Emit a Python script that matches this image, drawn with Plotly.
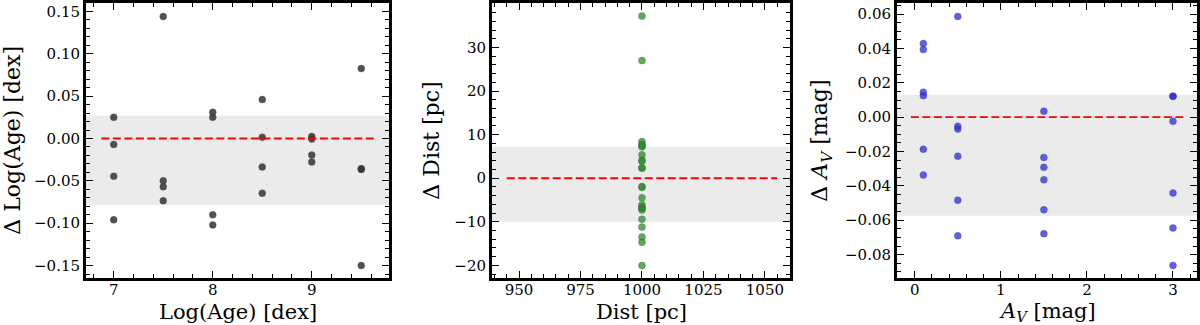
import plotly.graph_objects as go

# ---------------- data ----------------
age_x = [7.0]*4 + [7.5]*4 + [8.0]*4 + [8.5]*4 + [9.0]*4 + [9.5]*4
age_d = [0.025, -0.007, -0.0445, -0.096,
         0.144, -0.050, -0.057, -0.0735,
         0.031, 0.025, -0.090, -0.102,
         0.046, 0.0016, -0.0335, -0.0645,
         0.0025, -0.0007, -0.0195, -0.0277,
         0.0826, -0.0355, -0.0366, -0.150]
age_band = [-0.0785, 0.027]

dist_x = [1000]*24
dist_d = [37.2, 27.0, 8.4, 7.8, 7.4, 7.2, 5.4, 4.1, 3.9, 2.4, 2.3, -1.9,
          -2.1, -4.5, -6.1, -6.6, -6.8, -6.9, -7.3, -9.4, -11.2, -13.5, -14.7, -20.0]
dist_band = [-9.96, 7.2]

av_x = [0.1]*6 + [0.5]*6 + [1.5]*6 + [3.0]*6
av_d = [0.0429, 0.0394, 0.0145, 0.0125, -0.0186, -0.0337,
        0.0587, -0.0053, -0.0069, -0.0227, -0.0483, -0.0691,
        0.0035, -0.0234, -0.0292, -0.0364, -0.0539, -0.0678,
        0.0122, 0.0122, -0.0024, -0.0441, -0.0645, -0.0863]
av_band = [-0.0574, 0.013]

xlabels = ["Log(Age) [dex]", "Dist [pc]", "<i>A</i><sub><i>V</i></sub> [mag]"]
ylabels = ["Δ Log(Age) [dex]", "Δ Dist [pc]", "Δ <i>A</i><sub><i>V</i></sub> [mag]"]
# --------------------------------------

FONT = "DejaVu Serif"
W, H = 1200, 325

panels = [
    dict(x=age_x, y=age_d, band=age_band, color="rgba(50,50,50,0.85)", line_x=[6.875, 9.625],
         xr=[6.72, 9.78], yr=[-0.165, 0.16], xd=1, xm=0.2, yd=0.05, ym=0.01, yfmt=".2f"),
    dict(x=dist_x, y=dist_d, band=dist_band, color="rgba(35,145,35,0.75)", line_x=[945, 1055],
         xr=[939, 1060.2], yr=[-22.95, 40.2], xd=25, xm=5, yd=10, ym=2, yfmt=""),
    dict(x=av_x, y=av_d, band=av_band, color="rgba(40,40,235,0.75)", line_x=[-0.045, 3.145],
         xr=[-0.206, 3.279], yr=[-0.0938, 0.0665], xd=1, xm=0.2, yd=0.02, ym=0.005, yfmt=".2f"),
]

xdoms = [[86/W, 389/W], [492/W, 790/W], [897/W, 1197/W]]
ydom = [(H-278)/H, (H-1)/H]
ytitle_x = [13, 432, 822]

fig = go.Figure()
shapes = []
annotations = []
for i, p in enumerate(panels):
    n = "" if i == 0 else str(i+1)
    xa, ya = "x" + n, "y" + n
    fig.add_trace(go.Scatter(x=p["x"], y=p["y"], mode="markers", xaxis=xa, yaxis=ya,
                             marker=dict(size=7, color=p["color"],
                                         line=dict(width=0.6, color="rgba(90,90,90,0.6)")),
                             showlegend=False, hoverinfo="skip"))
    fig.add_trace(go.Scatter(x=p["line_x"], y=[0, 0], mode="lines", xaxis=xa, yaxis=ya,
                             line=dict(color="red", width=1.8, dash="8px,3.5px"),
                             showlegend=False, hoverinfo="skip"))
    shapes.append(dict(type="rect", xref=xa + " domain", yref=ya, x0=0, x1=1,
                       y0=p["band"][0], y1=p["band"][1], fillcolor="rgb(235,235,235)",
                       line=dict(width=0), layer="below"))
    axcommon = dict(showgrid=False, zeroline=False, showline=True, linewidth=3, linecolor="black",
                    mirror="allticks", ticks="inside", ticklen=7, tickwidth=1.3, tickcolor="black",
                    tickfont=dict(family=FONT, size=15, color="black"))
    fig.layout["xaxis" + n] = dict(axcommon, domain=xdoms[i], range=p["xr"], dtick=p["xd"],
                                   tick0=0, anchor=ya, ticklabelstandoff=-4,
                                   minor=dict(ticks="inside", ticklen=4, tickwidth=1, dtick=p["xm"],
                                              tickcolor="black", tick0=0))
    fig.layout["yaxis" + n] = dict(axcommon, domain=ydom, range=p["yr"], dtick=p["yd"], tick0=0,
                                   anchor=xa, tickformat=p["yfmt"],
                                   minor=dict(ticks="inside", ticklen=4, tickwidth=1, dtick=p["ym"],
                                              tickcolor="black", tick0=0))
    cx = (xdoms[i][0] + xdoms[i][1]) / 2
    annotations.append(dict(text=xlabels[i], x=cx, y=(H-312)/H, xref="paper", yref="paper",
                            showarrow=False, xanchor="center", yanchor="middle",
                            font=dict(family=FONT, size=21, color="black")))
    annotations.append(dict(text=ylabels[i], x=ytitle_x[i]/W, y=(ydom[0]+ydom[1])/2,
                            xref="paper", yref="paper", textangle=-90,
                            showarrow=False, xanchor="center", yanchor="middle",
                            font=dict(family=FONT, size=22, color="black")))

fig.update_layout(width=W, height=H, margin=dict(l=0, r=0, t=0, b=0),
                  paper_bgcolor="white", plot_bgcolor="white",
                  shapes=shapes, annotations=annotations)

fig.write_html("out.html", config={"displayModeBar": False},
               post_script="document.body.style.margin='0px';")
